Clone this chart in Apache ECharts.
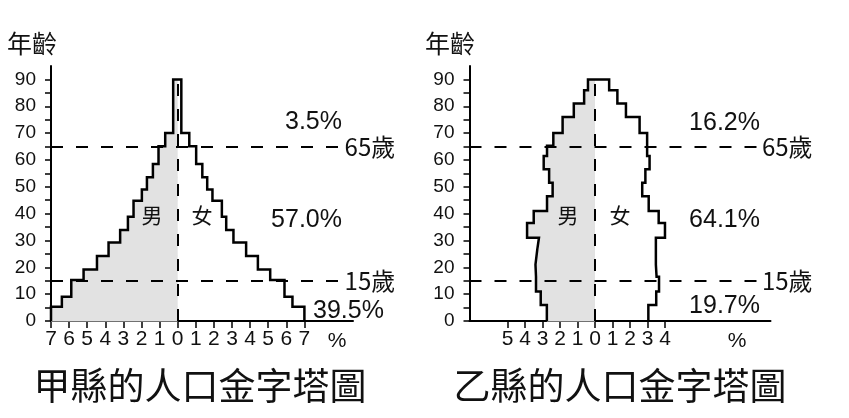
<!DOCTYPE html>
<html>
<head>
<meta charset="utf-8">
<script src="https://cdn.jsdelivr.net/npm/echarts@6/dist/echarts.min.js"></script>
<style>
html,body{margin:0;padding:0;background:#fff;}
#chart{width:849px;height:418px;}
</style>
</head>
<body>
<div id="chart"></div>
<script>
// ---- Data ----
// 甲縣: age band edges (years) and share (%) per band
const edgesA = [0, 5.3, 9, 15.3, 19.2, 24.2, 29.2, 33.9, 38.8, 44.8, 49, 53.6, 58.5, 65.1, 70, 90];
const maleA = [7.0, 6.4, 5.88, 5.2, 4.46, 3.82, 3.18, 2.75, 2.44, 1.98, 1.70, 1.37, 1.06, 0.69, 0.25];
const femaleA = [7.0, 6.34, 5.9, 5.11, 4.43, 3.78, 3.08, 2.68, 2.44, 1.92, 1.63, 1.36, 1.02, 0.64, 0.2];
// 乙縣
const edgesB = [0, 6, 11, 16.5, 21, 26.5, 31, 36.5, 41, 46.5, 51.5, 56.5, 61.5, 65.3, 70, 76, 81, 86, 90];
const maleB = [2.75, 3.1, 3.37, 3.4, 3.3, 3.2, 3.88, 3.5, 2.74, 2.42, 2.62, 2.93, 2.74, 2.38, 1.85, 1.21, 0.62, 0.4];
const femaleB = [3.05, 3.5, 3.66, 3.52, 3.48, 3.48, 4.0, 3.64, 3.07, 2.7, 2.88, 3.12, 2.98, 2.98, 2.55, 1.77, 1.28, 0.81];

const xTicksA = [-7, -6, -5, -4, -3, -2, -1, 0, 1, 2, 3, 4, 5, 6, 7];
const xTicksB = [-5, -4, -3, -2, -1, 0, 1, 2, 3, 4];
const yTicks = [0, 5, 10, 15, 20, 25, 30, 35, 40, 45, 50, 55, 60, 65, 70, 75, 80, 85, 90];
const yLabels = [0, 10, 20, 30, 40, 50, 60, 70, 80, 90];
const lineAges = [15, 65];
const lineAgeLabels = ['15歲', '65歲'];
const titles = ['甲縣的人口金字塔圖', '乙縣的人口金字塔圖'];
const pctA = ['3.5%', '57.0%', '39.5%'];
const pctB = ['16.2%', '64.1%', '19.7%'];

// ---- helpers ----
function bandData(edges, vals) {
  return vals.map((v, i) => [edges[i], edges[i + 1], -v]);
}
function outline(edges, male, female) {
  const pts = [];
  for (let i = 0; i < male.length; i++) {
    pts.push([-male[i], edges[i]]);
    pts.push([-male[i], edges[i + 1]]);
  }
  for (let i = female.length - 1; i >= 0; i--) {
    pts.push([female[i], edges[i + 1]]);
    pts.push([female[i], edges[i]]);
  }
  return pts;
}
const CJK = '"Noto Sans CJK TC", "Noto Sans CJK SC", sans-serif';
const NUM = '"Liberation Sans", Arial, sans-serif';
const NARROW = '"Liberation Sans Narrow", "Liberation Sans", Arial, sans-serif';

function xAxisCfg(gi, min, max, ticks) {
  return {
    type: 'value', gridIndex: gi, min: min, max: max,
    splitLine: { show: false },
    axisLine: { show: true, onZero: false, lineStyle: { color: '#000', width: 2 } },
    axisTick: { show: true, length: 7, customValues: ticks, lineStyle: { color: '#000', width: 1.5 } },
    axisLabel: {
      show: true, customValues: ticks, margin: 8,
      formatter: v => String(Math.abs(Math.round(v))),
      fontFamily: NARROW, fontSize: 21, color: '#111'
    }
  };
}
function yAxisCfg(gi) {
  return {
    type: 'value', gridIndex: gi, min: 0, max: 95,
    splitLine: { show: false },
    axisLine: { show: true, onZero: false, lineStyle: { color: '#000', width: 2 } },
    axisTick: { show: true, length: 6, customValues: yTicks, lineStyle: { color: '#000', width: 1.5 } },
    axisLabel: { show: true, customValues: yLabels, margin: 15, fontFamily: NUM, fontSize: 19, color: '#111' }
  };
}
function fillRender(params, api) {
  const lo = api.value(0), hi = api.value(1), v = api.value(2);
  const p1 = api.coord([v, hi]);
  const p2 = api.coord([0, lo]);
  return {
    type: 'rect',
    shape: { x: p1[0], y: p1[1] - 0.5, width: p2[0] - p1[0], height: p2[1] - p1[1] + 1 },
    style: { fill: '#e2e2e2' }
  };
}
function dashLines(xmin, xend) {
  const d = lineAges.map((a, i) => [
    { coord: [xmin, a], label: { formatter: lineAgeLabels[i] } },
    { coord: [xend, a] }
  ]);
  d.push([{ coord: [0, 0], label: { show: false } }, { coord: [0, 90] }]);
  return d;
}
function seriesFor(gi, edges, male, female, xmin, xend) {
  return [
    {
      type: 'custom', xAxisIndex: gi, yAxisIndex: gi, z: 1,
      renderItem: fillRender, encode: { x: 2, y: 1 },
      data: bandData(edges, male), silent: true
    },
    {
      type: 'line', xAxisIndex: gi, yAxisIndex: gi, z: 3,
      data: outline(edges, male, female),
      symbol: 'none', clip: false, animation: false, silent: true,
      lineStyle: { color: '#000', width: 2.5, join: 'miter' },
      markLine: {
        silent: true, symbol: ['none', 'none'], animation: false,
        lineStyle: { color: '#000', width: 2, type: [12, 13] },
        label: { show: true, position: 'end', distance: 4, color: '#111', fontFamily: CJK, fontSize: 24 },
        data: dashLines(xmin, xend)
      }
    }
  ];
}
function txt(x, y, text, size, align, family) {
  return {
    type: 'text', x: x, y: y, z: 100, zlevel: 1,
    style: { text: text, fontSize: size, fontFamily: family || NUM, fill: '#111', align: align || 'left', verticalAlign: 'middle' }
  };
}

const chart = echarts.init(document.getElementById('chart'), null, { renderer: 'canvas' });
chart.setOption({
  animation: false,
  backgroundColor: '#fff',
  grid: [
    { left: 51, top: 66, width: 302, height: 255 },
    { left: 469.5, top: 66, width: 301, height: 255 }
  ],
  xAxis: [xAxisCfg(0, -7, 9.685, xTicksA), xAxisCfg(1, -7.17, 10.03, xTicksB)],
  yAxis: [yAxisCfg(0), yAxisCfg(1)],
  series: [
    ...seriesFor(0, edgesA, maleA, femaleA, -7, 9.0),
    ...seriesFor(1, edgesB, maleB, femaleB, -7.17, 9.31)
  ],
  graphic: [
    txt(7, 43, '年齡', 25, 'left', CJK),
    txt(425, 43, '年齡', 25, 'left', CJK),
    txt(152, 215, '男', 21, 'center', CJK),
    txt(202, 215, '女', 21, 'center', CJK),
    txt(568, 215, '男', 21, 'center', CJK),
    txt(620, 215, '女', 21, 'center', CJK),
    txt(342, 122, pctA[0], 25, 'right'),
    txt(342, 220, pctA[1], 25, 'right'),
    txt(313, 311, pctA[2], 25, 'left'),
    txt(760, 123, pctB[0], 25, 'right'),
    txt(760, 220, pctB[1], 25, 'right'),
    txt(760, 306, pctB[2], 25, 'right'),
    txt(337, 341, '%', 21, 'center', NARROW),
    txt(737, 341, '%', 21, 'center', NARROW),
    txt(200, 386, titles[0], 37, 'center', CJK),
    txt(620, 386, titles[1], 37, 'center', CJK)
  ]
});
</script>
</body>
</html>
